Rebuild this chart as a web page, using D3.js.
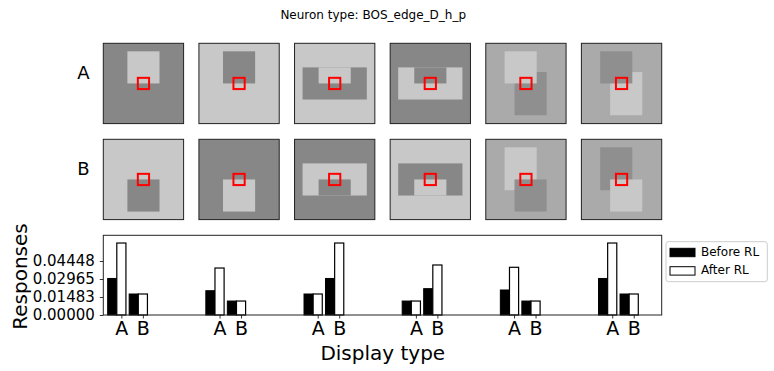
<!DOCTYPE html>
<html>
<head>
<meta charset="utf-8">
<script src="https://cdn.jsdelivr.net/npm/d3@7"></script>
<style>
  body { margin: 0; background: #fff; }
  svg { font-family: "DejaVu Sans", sans-serif; }
</style>
</head>
<body>
<script>
const title = 'Neuron type: BOS_edge_D_h_p';
const rowNames = ['A', 'B'];
const displayNames = ['A', 'B'];
const seriesNames = ['Before RL', 'After RL'];

// responses per display group (6 groups), for display A and display B
const beforeA = [0.0301, 0.0200, 0.0173, 0.0115, 0.0206, 0.0301];
const afterA  = [0.0593, 0.0387, 0.0173, 0.0115, 0.0393, 0.0593];
const beforeB = [0.0173, 0.0115, 0.0301, 0.0217, 0.0115, 0.0173];
const afterB  = [0.0173, 0.0115, 0.0593, 0.0412, 0.0115, 0.0173];

const yTicks = [0, 0.01483, 0.02965, 0.04448];
const yTickLabels = ['0.00000', '0.01483', '0.02965', '0.04448'];
const yMax = 0.06566;

// stimuli: 50x50 images, background grey level + rects [x0, y0, x1, y1, grey]
const stimA = [
  { bg: 135, rects: [[15, 5, 35, 25, 200]] },
  { bg: 200, rects: [[15, 5, 35, 25, 135]] },
  { bg: 200, rects: [[5, 15, 45, 35, 135], [15, 15, 35, 25, 200]] },
  { bg: 135, rects: [[5, 15, 45, 35, 200], [15, 15, 35, 25, 135]] },
  { bg: 170, rects: [[17.9, 17.9, 37.9, 44.8, 143], [11.7, 5, 31.7, 25, 200]] },
  { bg: 170, rects: [[17.9, 17.9, 37.9, 44.8, 200], [11.7, 5, 31.7, 25, 143]] }
];
const stimB = [
  { bg: 200, rects: [[15, 25, 35, 45, 135]] },
  { bg: 135, rects: [[15, 25, 35, 45, 200]] },
  { bg: 135, rects: [[5, 15, 45, 35, 200], [15, 25, 35, 35, 135]] },
  { bg: 200, rects: [[5, 15, 45, 35, 135], [15, 25, 35, 35, 200]] },
  { bg: 170, rects: [[11.7, 5, 31.7, 31.7, 200], [17.9, 25, 37.9, 45, 143]] },
  { bg: 170, rects: [[11.7, 5, 31.7, 31.7, 143], [17.9, 25, 37.9, 45, 200]] }
];
const receptiveField = [21.5, 21.5, 28.5, 28.5];

const width = 774;
const height = 371;
const plotLeft = 103.3;
const plotRight = 661.7;

const svg = d3.select('body')
  .append('svg')
  .attr('width', width)
  .attr('height', height);

svg.append('text')
  .attr('x', 373.2)
  .attr('y', 19.4)
  .attr('text-anchor', 'middle')
  .style('font-size', '12px')
  .text(title);

// ---- image panels ----
const panelSize = 80.3;
const panelX = d3.scaleLinear().domain([0, 5]).range([plotLeft, plotRight - panelSize]);
const rowTops = [43.3, 139.3];
const img = d3.scaleLinear().domain([0, 50]).range([0, panelSize]);
const grey = (v) => d3.rgb(v, v, v);

[stimA, stimB].forEach((row, r) => {
  svg.append('text')
    .attr('x', 83.5)
    .attr('y', rowTops[r] + 36)
    .attr('text-anchor', 'middle')
    .style('font-size', '18px')
    .text(rowNames[r]);

  row.forEach((stim, i) => {
    const g = svg.append('g')
      .attr('transform', 'translate(' + panelX(i) + ',' + rowTops[r] + ')');

    g.append('rect')
      .attr('width', panelSize)
      .attr('height', panelSize)
      .attr('fill', grey(stim.bg));

    g.selectAll('.shape')
      .data(stim.rects)
      .enter()
      .append('rect')
      .attr('class', 'shape')
      .attr('x', (d) => img(d[0]))
      .attr('y', (d) => img(d[1]))
      .attr('width', (d) => img(d[2]) - img(d[0]))
      .attr('height', (d) => img(d[3]) - img(d[1]))
      .attr('fill', (d) => grey(d[4]));

    g.append('rect')
      .attr('x', img(receptiveField[0]))
      .attr('y', img(receptiveField[1]))
      .attr('width', img(receptiveField[2]) - img(receptiveField[0]))
      .attr('height', img(receptiveField[3]) - img(receptiveField[1]))
      .attr('fill', 'none')
      .attr('stroke', '#ff0000')
      .attr('stroke-width', 2);

    g.append('rect')
      .attr('width', panelSize)
      .attr('height', panelSize)
      .attr('fill', 'none')
      .attr('stroke', '#222')
      .attr('stroke-width', 1);
  });
});

// ---- bar chart ----
const plotTop = 235.3;
const plotBottom = 315;
const abGap = 0.219;
const barW = 0.093;

const xScale = d3.scaleLinear().domain([-0.184, 5.504]).range([plotLeft, plotRight]);
const yScale = d3.scaleLinear().domain([0, yMax]).range([plotBottom, plotTop]);

const bars = [];
beforeA.forEach((v, i) => {
  bars.push({ pos: i, before: beforeA[i], after: afterA[i], name: displayNames[0] });
  bars.push({ pos: i + abGap, before: beforeB[i], after: afterB[i], name: displayNames[1] });
});

const bw = xScale(barW) - xScale(0);

svg.selectAll('.before')
  .data(bars)
  .enter()
  .append('rect')
  .attr('class', 'before')
  .attr('x', (d) => xScale(d.pos) - 1.5 * bw)
  .attr('y', (d) => yScale(d.before))
  .attr('width', bw)
  .attr('height', (d) => yScale(0) - yScale(d.before))
  .attr('fill', '#000')
  .attr('stroke', '#000')
  .attr('stroke-width', 1);

svg.selectAll('.after')
  .data(bars)
  .enter()
  .append('rect')
  .attr('class', 'after')
  .attr('x', (d) => xScale(d.pos) - 0.5 * bw)
  .attr('y', (d) => yScale(d.after))
  .attr('width', bw)
  .attr('height', (d) => yScale(0) - yScale(d.after))
  .attr('fill', '#fff')
  .attr('stroke', '#000')
  .attr('stroke-width', 1.2);

const xAxis = d3.axisBottom(xScale)
  .tickValues(bars.map((d) => d.pos))
  .tickFormat((d, i) => bars[i].name)
  .tickSize(3.5)
  .tickPadding(3.5);

const yAxis = d3.axisLeft(yScale)
  .tickValues(yTicks)
  .tickFormat((d, i) => yTickLabels[i])
  .tickSize(3.5)
  .tickPadding(5);

const gx = svg.append('g')
  .attr('transform', 'translate(0,' + plotBottom + ')')
  .call(xAxis)
  .attr('font-family', null)
  .attr('font-size', null);
gx.select('.domain').remove();
gx.selectAll('text')
  .style('font-size', '19px')
  .style('fill', '#000');
gx.selectAll('line').attr('stroke', '#000').attr('stroke-width', 0.8);

const gy = svg.append('g')
  .attr('transform', 'translate(' + plotLeft + ',0)')
  .call(yAxis)
  .attr('font-family', null)
  .attr('font-size', null);
gy.select('.domain').remove();
gy.selectAll('text')
  .style('font-size', '15px')
  .style('fill', '#000');
gy.selectAll('line').attr('stroke', '#000').attr('stroke-width', 0.8);

svg.append('rect')
  .attr('x', plotLeft)
  .attr('y', plotTop)
  .attr('width', plotRight - plotLeft)
  .attr('height', plotBottom - plotTop)
  .attr('fill', 'none')
  .attr('stroke', '#222')
  .attr('stroke-width', 1);

svg.append('text')
  .attr('transform', 'translate(26.5,276.5) rotate(-90)')
  .attr('text-anchor', 'middle')
  .style('font-size', '20px')
  .text('Responses');

svg.append('text')
  .attr('x', 382.8)
  .attr('y', 360)
  .attr('text-anchor', 'middle')
  .style('font-size', '20px')
  .text('Display type');

// ---- legend ----
const legend = svg.append('g').attr('transform', 'translate(666,241.7)');
legend.append('rect')
  .attr('width', 101.3)
  .attr('height', 40)
  .attr('rx', 2.5)
  .attr('fill', '#fff')
  .attr('stroke', '#cccccc')
  .attr('stroke-width', 1);

legend.selectAll('.key')
  .data(seriesNames)
  .enter()
  .append('rect')
  .attr('class', 'key')
  .attr('x', 4)
  .attr('y', (d, i) => 6.6 + i * 18.4)
  .attr('width', 25)
  .attr('height', 8.4)
  .attr('fill', (d, i) => i === 0 ? '#000' : '#fff')
  .attr('stroke', '#000')
  .attr('stroke-width', 1);

legend.selectAll('.label')
  .data(seriesNames)
  .enter()
  .append('text')
  .attr('class', 'label')
  .attr('x', 35)
  .attr('y', (d, i) => 14 + i * 18.6)
  .style('font-size', '12px')
  .text((d) => d);
</script>
</body>
</html>
